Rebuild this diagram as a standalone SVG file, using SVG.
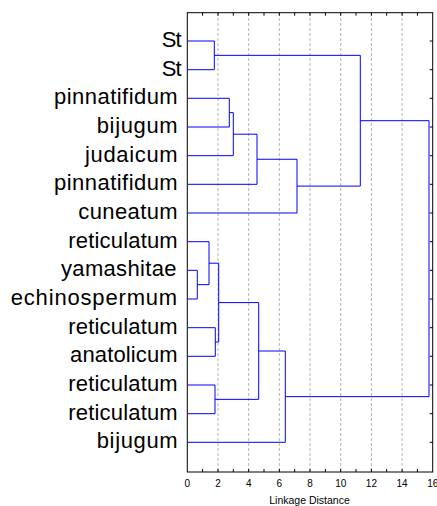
<svg xmlns="http://www.w3.org/2000/svg" width="437" height="506" viewBox="0 0 437 506">
<style>
.lbl{font-family:"Liberation Sans",Arial,sans-serif;font-size:22px;fill:#000;text-anchor:end}
.tk{font-family:"Liberation Sans",Arial,sans-serif;font-size:10px;fill:#000;text-anchor:middle}
.ttl{font-family:"Liberation Sans",Arial,sans-serif;font-size:10.5px;fill:#000;text-anchor:middle}
.grid{stroke:#b4b4b4;stroke-width:1;stroke-dasharray:3 2;fill:none}
.link{stroke:#0000ff;stroke-width:1;fill:none}
.ax{stroke:#000;stroke-width:1;fill:none}
</style>
<rect width="437" height="506" fill="#fff"/>
<g id="grid">
<path class="grid" d="M218,13V472M248.7,13V472M279.3,13V472M310,13V472M340.7,13V472M371.4,13V472M402.1,13V472"/>
</g>
<g id="axes">
<rect class="ax" x="187.3" y="12.7" width="245.4" height="459.3"/>
<path class="ax" d="M202.6,12.7v3M218,12.7v3M233.3,12.7v3M248.7,12.7v3M264,12.7v3M279.3,12.7v3M294.7,12.7v3M310,12.7v3M325.4,12.7v3M340.7,12.7v3M356,12.7v3M371.4,12.7v3M386.7,12.7v3M402.1,12.7v3M417.4,12.7v3"/>
<path class="ax" d="M202.6,472v-3M218,472v-3M233.3,472v-3M248.7,472v-3M264,472v-3M279.3,472v-3M294.7,472v-3M310,472v-3M325.4,472v-3M340.7,472v-3M356,472v-3M371.4,472v-3M386.7,472v-3M402.1,472v-3M417.4,472v-3"/>
<path class="ax" d="M432.7,41h-3M432.7,69.7h-3M432.7,98.3h-3M432.7,127h-3M432.7,155.7h-3M432.7,184.3h-3M432.7,213h-3M432.7,241.7h-3M432.7,270.3h-3M432.7,299h-3M432.7,327.7h-3M432.7,356.3h-3M432.7,385h-3M432.7,413.7h-3M432.7,442.3h-3"/>
<text class="tk" x="187.3" y="487">0</text>
<text class="tk" x="218" y="487">2</text>
<text class="tk" x="248.7" y="487">4</text>
<text class="tk" x="279.3" y="487">6</text>
<text class="tk" x="310" y="487">8</text>
<text class="tk" x="340.7" y="487">10</text>
<text class="tk" x="371.4" y="487">12</text>
<text class="tk" x="402.1" y="487">14</text>
<text class="tk" x="432.7" y="487">16</text>
<text class="ttl" x="309.5" y="504">Linkage Distance</text>
</g>
<g id="connectors">
<path class="link" d="M187.3,41H214.3V69.7H187.3"/>
<path class="link" d="M187.3,98.3H229.3V127H187.3"/>
<path class="link" d="M229.3,112.65H233.3V155.7H187.3"/>
<path class="link" d="M233.3,134.2H257V184.3H187.3"/>
<path class="link" d="M257,159.25H297V213H187.3"/>
<path class="link" d="M214.3,55.35H360.3V186.1H297"/>
<path class="link" d="M187.3,270.3H197.3V299H187.3"/>
<path class="link" d="M187.3,241.7H209V284.65H197.3"/>
<path class="link" d="M187.3,327.7H215.3V356.3H187.3"/>
<path class="link" d="M209,263.2H218.7V342H215.3"/>
<path class="link" d="M187.3,385H215V413.7H187.3"/>
<path class="link" d="M218.7,302.6H258.7V399.35H215"/>
<path class="link" d="M258.7,351H285.3V442.3H187.3"/>
<path class="link" d="M360.3,120.7H429V396.65H285.3"/>
</g>
<g id="leaf1"><text class="lbl" x="181.7" y="47" textLength="20" lengthAdjust="spacing">St</text></g>
<g id="leaf2"><text class="lbl" x="181.7" y="75.7" textLength="20" lengthAdjust="spacing">St</text></g>
<g id="leaf3"><text class="lbl" x="177.7" y="104.3" textLength="123.7" lengthAdjust="spacing">pinnatifidum</text></g>
<g id="leaf4"><text class="lbl" x="177.7" y="133" textLength="81" lengthAdjust="spacing">bijugum</text></g>
<g id="leaf5"><text class="lbl" x="177.7" y="161.7" textLength="92.7" lengthAdjust="spacing">judaicum</text></g>
<g id="leaf6"><text class="lbl" x="177.7" y="190.3" textLength="123.7" lengthAdjust="spacing">pinnatifidum</text></g>
<g id="leaf7"><text class="lbl" x="177.7" y="219" textLength="99.4" lengthAdjust="spacing">cuneatum</text></g>
<g id="leaf8"><text class="lbl" x="177.7" y="247.7" textLength="109.4" lengthAdjust="spacing">reticulatum</text></g>
<g id="leaf9"><text class="lbl" x="176.5" y="276.3" textLength="115.5" lengthAdjust="spacing">yamashitae</text></g>
<g id="leaf10"><text class="lbl" x="177.2" y="305" textLength="166.5" lengthAdjust="spacing">echinospermum</text></g>
<g id="leaf11"><text class="lbl" x="177.7" y="333.7" textLength="109.4" lengthAdjust="spacing">reticulatum</text></g>
<g id="leaf12"><text class="lbl" x="177.7" y="362.3" textLength="107.7" lengthAdjust="spacing">anatolicum</text></g>
<g id="leaf13"><text class="lbl" x="177.7" y="391" textLength="109.4" lengthAdjust="spacing">reticulatum</text></g>
<g id="leaf14"><text class="lbl" x="177.7" y="419.7" textLength="109.4" lengthAdjust="spacing">reticulatum</text></g>
<g id="leaf15"><text class="lbl" x="177.7" y="448.3" textLength="81" lengthAdjust="spacing">bijugum</text></g>
</svg>
